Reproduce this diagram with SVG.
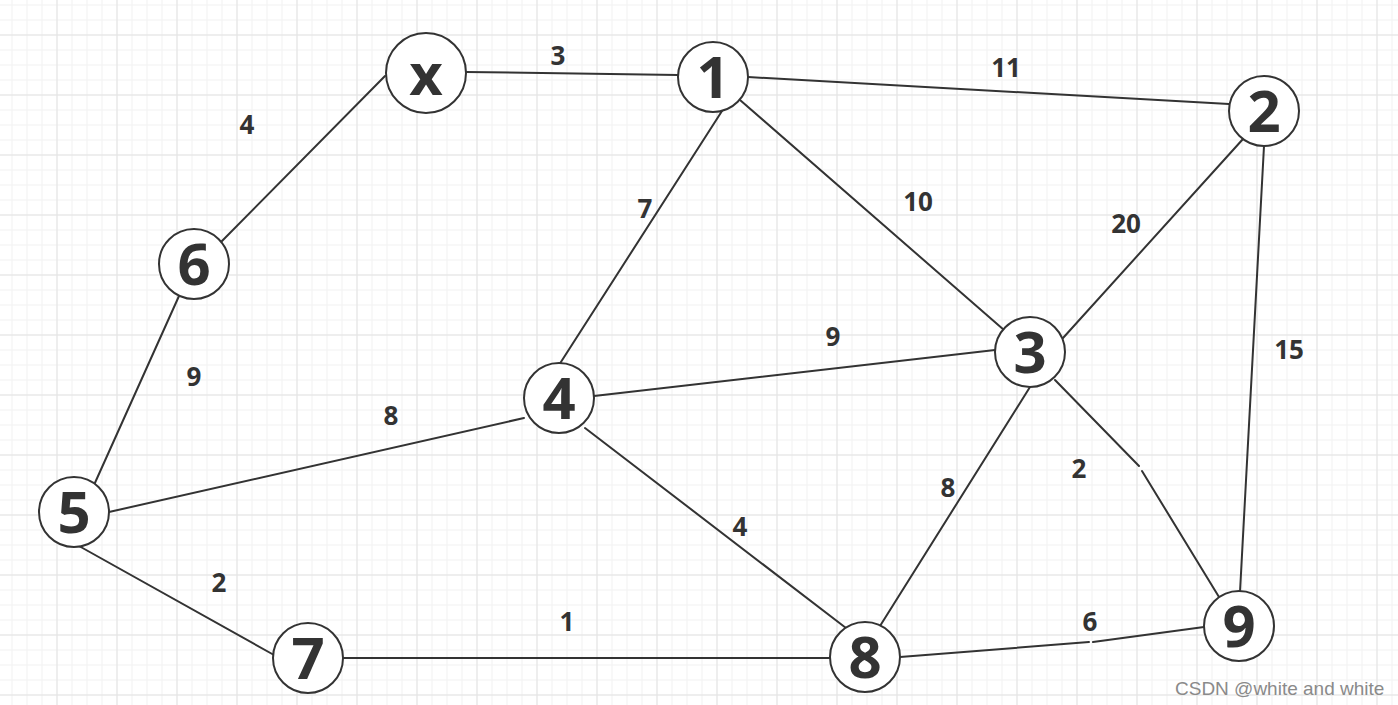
<svg xmlns="http://www.w3.org/2000/svg" width="1398" height="705" viewBox="0 0 1398 705">
<defs>
<pattern id="minor" x="11.5" y="4.5" width="15" height="15" patternUnits="userSpaceOnUse">
<path d="M0.5 0V15M0 0.5H15" stroke="#f1f1f1" stroke-width="1" fill="none"/>
</pattern>
<pattern id="major" x="56.5" y="34.5" width="60" height="60" patternUnits="userSpaceOnUse">
<path d="M0.5 0V60M0 0.5H60" stroke="#e3e3e3" stroke-width="1" fill="none"/>
</pattern>
<style>
.edge{stroke:#333;stroke-width:2;fill:none;stroke-linecap:round}
.node circle{fill:#fff;stroke:#333;stroke-width:2}
.nl{font-family:"Open Sans","Noto Sans",sans-serif;font-weight:bold;font-size:58px;fill:#333;text-anchor:middle}
.el{font-family:"Open Sans","Noto Sans",sans-serif;font-weight:bold;font-size:26px;fill:#333;text-anchor:middle}
.wm{font-family:"Liberation Sans",Arial,sans-serif;font-size:19px;fill:#8a8a8a}
</style>
</defs>
<rect width="1398" height="705" fill="#fff"/>
<rect width="1398" height="705" fill="url(#minor)"/>
<rect width="1398" height="705" fill="url(#major)"/>
<g id="connectors">
<line class="edge" x1="466" y1="72" x2="678" y2="75"/>
<line class="edge" x1="748" y1="77" x2="1229" y2="104"/>
<line class="edge" x1="385" y1="76" x2="222" y2="241"/>
<line class="edge" x1="722" y1="111" x2="559" y2="365"/>
<line class="edge" x1="740" y1="100" x2="1004" y2="330"/>
<line class="edge" x1="1243" y1="139" x2="1063" y2="338"/>
<line class="edge" x1="1264" y1="146" x2="1240" y2="592"/>
<line class="edge" x1="179" y1="296" x2="94" y2="485"/>
<line class="edge" x1="594" y1="396" x2="995" y2="350"/>
<line class="edge" x1="109" y1="512" x2="524" y2="418"/>
<line class="edge" x1="585" y1="428" x2="846" y2="628"/>
<line class="edge" x1="1030" y1="387" x2="880" y2="626"/>
<path class="edge" d="M1055 380L1139 466M1142 471L1219 597"/>
<line class="edge" x1="79" y1="546" x2="274" y2="655"/>
<line class="edge" x1="343" y1="658" x2="830" y2="658"/>
<path class="edge" d="M900 657L1089 642M1093 642L1204 627"/>
<text class="el" x="558" y="65">3</text>
<text class="el" x="1006" y="77">11</text>
<text class="el" x="247" y="134">4</text>
<text class="el" x="645" y="218">7</text>
<text class="el" x="918" y="211">10</text>
<text class="el" x="1126" y="233">20</text>
<text class="el" x="1289" y="359">15</text>
<text class="el" x="194" y="386">9</text>
<text class="el" x="833" y="346">9</text>
<text class="el" x="391" y="425">8</text>
<text class="el" x="740" y="536">4</text>
<text class="el" x="948" y="497">8</text>
<text class="el" x="1079" y="478">2</text>
<text class="el" x="219" y="592">2</text>
<text class="el" x="567" y="631">1</text>
<text class="el" x="1090" y="631">6</text>
</g>
<g id="node-x" class="node"><circle cx="426" cy="73" r="40"/><text class="nl" x="426" y="95">x</text></g>
<g id="node-1" class="node"><circle cx="713" cy="77" r="35"/><text class="nl" x="713" y="98">1</text></g>
<g id="node-2" class="node"><circle cx="1264" cy="111" r="35"/><text class="nl" x="1264" y="132">2</text></g>
<g id="node-6" class="node"><circle cx="194" cy="264" r="35"/><text class="nl" x="194" y="285">6</text></g>
<g id="node-3" class="node"><circle cx="1030" cy="352" r="35"/><text class="nl" x="1030" y="373">3</text></g>
<g id="node-4" class="node"><circle cx="559" cy="398" r="35"/><text class="nl" x="559" y="419">4</text></g>
<g id="node-5" class="node"><circle cx="74" cy="512" r="35"/><text class="nl" x="74" y="533">5</text></g>
<g id="node-7" class="node"><circle cx="308" cy="658" r="35"/><text class="nl" x="308" y="679">7</text></g>
<g id="node-8" class="node"><circle cx="865" cy="657" r="35"/><text class="nl" x="865" y="678">8</text></g>
<g id="node-9" class="node"><circle cx="1239" cy="626" r="35"/><text class="nl" x="1239" y="647">9</text></g>
<text class="wm" x="1175" y="695">CSDN @white and white</text>
</svg>
